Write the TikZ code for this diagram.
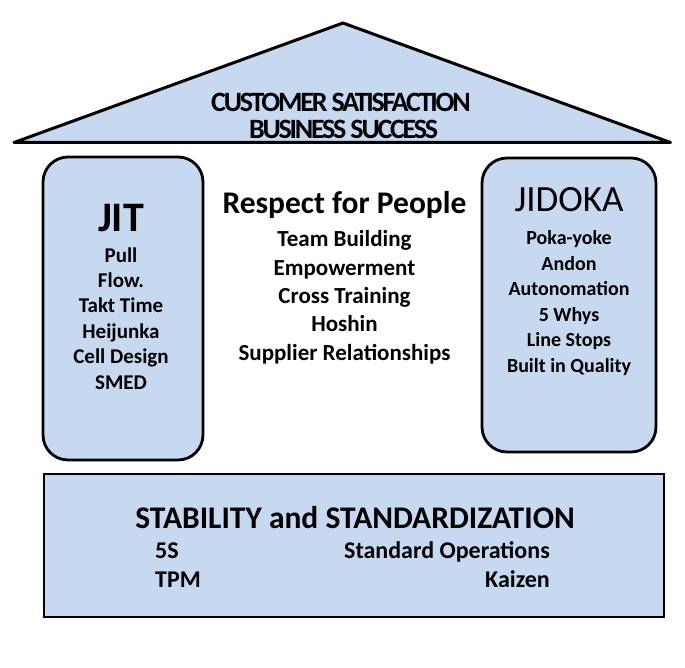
\documentclass[tikz,border=0pt]{standalone}
\usepackage{fontspec}
\setmainfont{Carlito}
\newfontfamily\roofface{Carlito}[LetterSpace=-8]
\usetikzlibrary{positioning}
\definecolor{houseblue}{RGB}{198,217,241}

\begin{document}
\begin{tikzpicture}[
    x=1pt, y=-1pt,
    node distance=5pt,
    roof/.style={draw, line width=3pt, fill=houseblue, line join=round},
    pillar/.style={rectangle, draw, line width=2.8pt, fill=houseblue, rounded corners=25pt, inner sep=0pt},
    foundation/.style={rectangle, draw, line width=2.8pt, fill=houseblue, inner sep=0pt},
    rooftext/.style={font=\roofface\bfseries\fontsize{28}{32}\selectfont, inner sep=0pt},
    title/.style={font=\bfseries\fontsize{31.5}{34}\selectfont, inner sep=0pt},
    item/.style={font=\bfseries\fontsize{20}{24}\selectfont, text height=15pt, text depth=5pt, inner sep=0pt},
    jititem/.style={item, font=\bfseries\fontsize{21}{24}\selectfont},
    wideitem/.style={item, font=\bfseries\fontsize{23}{26}\selectfont, text height=17pt, text depth=6pt},
    lowitem/.style={item, font=\bfseries\fontsize{24}{26}\selectfont, text height=17pt, text depth=6pt}
]
\useasboundingbox (0,0) rectangle (685,668);
\fill[white] (0,0) rectangle (685,668);

% Roof
\draw[roof] (14,142.5) -- (343,23) -- (670.5,142.5) -- cycle;
\node[rooftext, anchor=base] (satisfaction) at (341,111.5) {CUSTOMER SATISFACTION};
\node[rooftext, anchor=base] (success) at (343.5,139) {BUSINESS SUCCESS};

% Pillars
\node[pillar, minimum width=160pt, minimum height=303pt] (jitbox) at (123,308.5) {};
\node[pillar, minimum width=174pt, minimum height=294pt] (jidokabox) at (569,305) {};

% JIT
\node[font=\bfseries\fontsize{42}{46}\selectfont, inner sep=0pt, anchor=base] (jit) at (121,231.5) {JIT};
\node[jititem, anchor=base] (pull) at (121,262) {Pull};
\node[jititem, below=of pull] (flow) {Flow.};
\node[jititem, below=of flow] (takt) {Takt Time};
\node[jititem, below=of takt] (heijunka) {Heijunka};
\node[jititem, below=of heijunka] (cell) {Cell Design};
\node[jititem, below=of cell] (smed) {SMED};

% Respect for People
\node[title, anchor=base] (respect) at (344.5,213.3) {Respect for People};
\node[wideitem, anchor=base] (team) at (344.5,246.7) {Team Building};
\node[wideitem, below=of team] (empower) {Empowerment};
\node[wideitem, below=of empower] (cross) {Cross Training};
\node[wideitem, below=of cross] (hoshin) {Hoshin};
\node[wideitem, below=of hoshin] (supplier) {Supplier Relationships};

% JIDOKA
\node[font=\fontsize{37}{40}\selectfont, inner sep=0pt, anchor=base] (jidoka) at (569,211.5) {JIDOKA};
\node[item, anchor=base] (pokayoke) at (569,245) {Poka-yoke};
\node[item, below=of pokayoke] (andon) {Andon};
\node[item, below=of andon] (autonomation) {Autonomation};
\node[item, below=of autonomation] (whys) {5 Whys};
\node[item, below=of whys] (linestops) {Line Stops};
\node[item, below=of linestops] (quality) {Built in Quality};

% Foundation
\node[foundation, minimum width=620pt, minimum height=143pt] (foundationbox) at (354,545.5) {};
\node[title, anchor=base] (stability) at (355,528.3) {STABILITY and STANDARDIZATION};
\node[lowitem, anchor=base west] (fives) at (155,558.3) {5S};
\node[lowitem, below right=5.4pt and 0pt of fives.south west] (tpm) {TPM};
\node[lowitem, anchor=base east] (stdops) at (550,558.3) {Standard Operations};
\node[lowitem, below left=5.4pt and 0pt of stdops.south east] (kaizen) {Kaizen};

\end{tikzpicture}
\end{document}
